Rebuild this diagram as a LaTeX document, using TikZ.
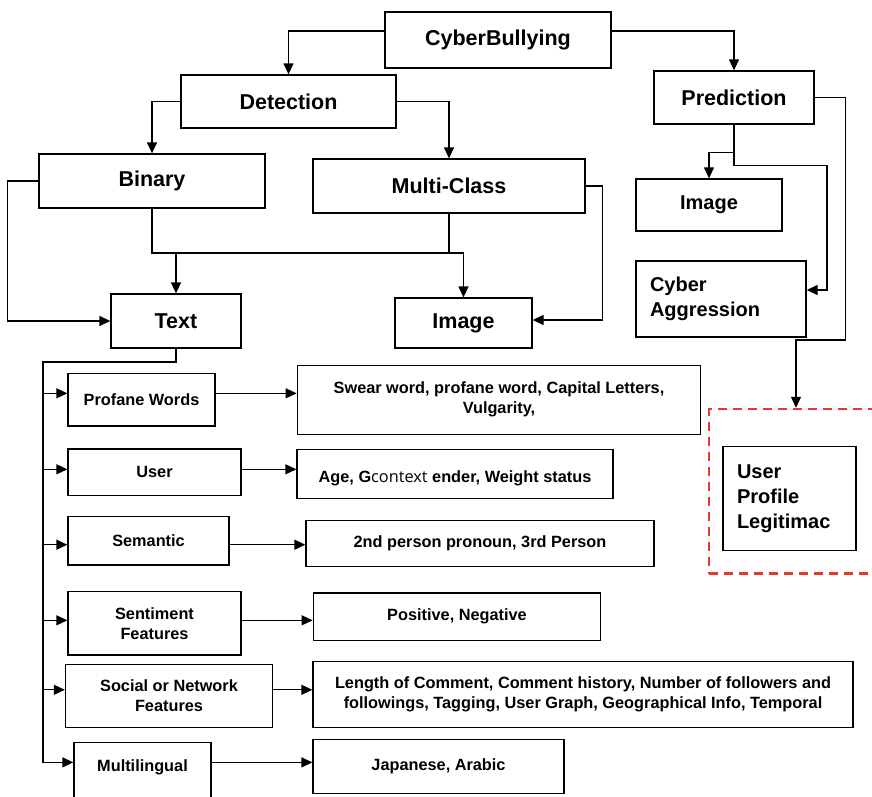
\documentclass[tikz,border=0pt]{standalone}
\usepackage{fontspec}
\setmainfont{Liberation Sans}
\newfontfamily\ctxfont{Open Sans}
\usepackage{tikz}
\usetikzlibrary{arrows.meta}
\definecolor{DashRed}{HTML}{E8372C}

\begin{document}
\begin{tikzpicture}[x=1pt, y=-1pt, every node/.style={font=\bfseries}, box/.style={draw=black, line width=1.3pt, fill=white, inner sep=2pt, align=center}, sz/.style 2 args={minimum width=#1pt, minimum height=#2pt}, bigtxt/.style={font=\fontsize{21.5}{26}\selectfont\bfseries}, midtxt/.style={font=\fontsize{20}{25}\selectfont\bfseries}, smalltxt/.style={font=\fontsize{16.3}{20}\selectfont\bfseries}, arrow/.style={-{Triangle[length=11pt,width=10pt]}, line width=1.3pt}]
\useasboundingbox (0,0) rectangle (872,796);
\node[box,bigtxt,sz={226}{56}] (cb) at (498,40) {CyberBullying};
\node[box,bigtxt,sz={215}{53}] (dt) at (288.5,101.5) {Detection};
\node[box,bigtxt,sz={160}{53}] (pr) at (734,97.5) {Prediction};
\node[box,bigtxt,sz={226}{54}] (bn) at (152,181) {Binary};
\node[box,bigtxt,sz={272}{54}] (mc) at (449,186) {Multi-Class};
\node[box,midtxt,sz={146}{52}] (ip) at (709,205) {Image};
\node[box,midtxt,sz={170}{76},align=left,text width=142pt,inner xsep=14pt] (ca) at (721,299) {Cyber\\Aggression};
\node[box,bigtxt,sz={130}{54}] (tx) at (176,321) {Text};
\node[box,bigtxt,sz={137}{50}] (im) at (463.5,323) {Image};
\node[sz={174}{164.5}, draw=DashRed, line width=2.5pt, dash pattern=on 9pt off 6pt] (rb) at (796,491.3) {};
\node[box,midtxt,sz={133}{104},align=left,text width=105pt,inner xsep=14pt] (up) at (789.5,498.7) {User\\Profile\\Legitimac};
\node[box,smalltxt,sz={147}{52.7}] (pw) at (141.5,399.7) {Profane Words};
\node[box,smalltxt,sz={403.5}{68.7}] (sw) at (499,399.8) {Swear word, profane word, Capital Letters,\\Vulgarity,};
\node[box,smalltxt,sz={173}{46.7}] (us) at (154.5,472.3) {User};
\node[box,smalltxt,sz={316}{49},text height=20pt,text depth=4pt] (ag) at (455,474.2) {Age, G{\ctxfont\mdseries context} ender, Weight status};
\node[box,smalltxt,sz={161}{48.7}] (sm) at (148.5,540.7) {Semantic};
\node[box,smalltxt,sz={348}{45.7}] (pp) at (480,543.5) {2nd person pronoun, 3rd Person};
\node[box,smalltxt,sz={173}{63.3}] (sf) at (154.5,623.3) {Sentiment\\Features};
\node[box,smalltxt,sz={287.5}{47.3}] (pn) at (457,616.7) {Positive, Negative};
\node[box,smalltxt,sz={207}{63}] (sn) at (169,695.8) {Social or Network\\Features};
\node[box,smalltxt,sz={540}{65.7}] (lc) at (583,694.5) {Length of Comment, Comment history, Number of followers and\\followings, Tagging, User Graph, Geographical Info, Temporal};
\node[box,smalltxt,sz={137}{66},anchor=north,text height=12pt,text depth=20pt] (ml) at (142.5,741.7) {Multilingual};
\node[box,smalltxt,sz={251}{54}] (jp) at (438.5,766.3) {Japanese, Arabic};
\coordinate (mg) at (300,253);
\coordinate (bus) at (43,362);
\draw[arrow] ([yshift=9pt]cb.west) -| (dt.north);
\draw[arrow] ([yshift=9pt]cb.east) -| (pr.north);
\draw[arrow] (dt.west) -| (bn.north);
\draw[arrow] (dt.east) -| (mc.north);
\draw[line width=1.3pt] (bn.south) |- (im.north |- mg);
\draw[line width=1.3pt] (mc.south) -- (mc.south |- mg);
\draw[arrow] (tx.north |- mg) -- (tx.north);
\draw[arrow] (im.north |- mg) -- (im.north);
\draw[arrow] (bn.west) -- ++(-31,0) |- (tx.west);
\draw[arrow] (mc.east) -- ++(17,0) |- ([yshift=3pt]im.east);
\draw[arrow] (pr.south) -- ++(0,28) -| (ip.north);
\draw[arrow] (pr.south) -- ++(0,41) -- ++(93,0) |- ([yshift=9pt]ca.east);
\draw[arrow] (pr.east) -- ++(31,0) -- ++(0,242.5) -| (rb.north);
\draw[arrow] (tx.south) |- (bus) |- ([yshift=13pt]ml.west);
\foreach \n/\s in {pw/6.4,us/3,sm/-4,sf/3,sn/6}{\draw[arrow] ([yshift=\s pt]bus |- \n.west) -- ([yshift=\s pt]\n.west);}
\foreach \x/\y/\s in {pw/sw/6.4,us/ag/3,sm/pp/-4,sf/pn/3,sn/lc/6,ml/jp/13}{\draw[arrow] ([yshift=\s pt]\x.east) -- ([yshift=\s pt]\x.east -| \y.west);}
\end{tikzpicture}
\end{document}
